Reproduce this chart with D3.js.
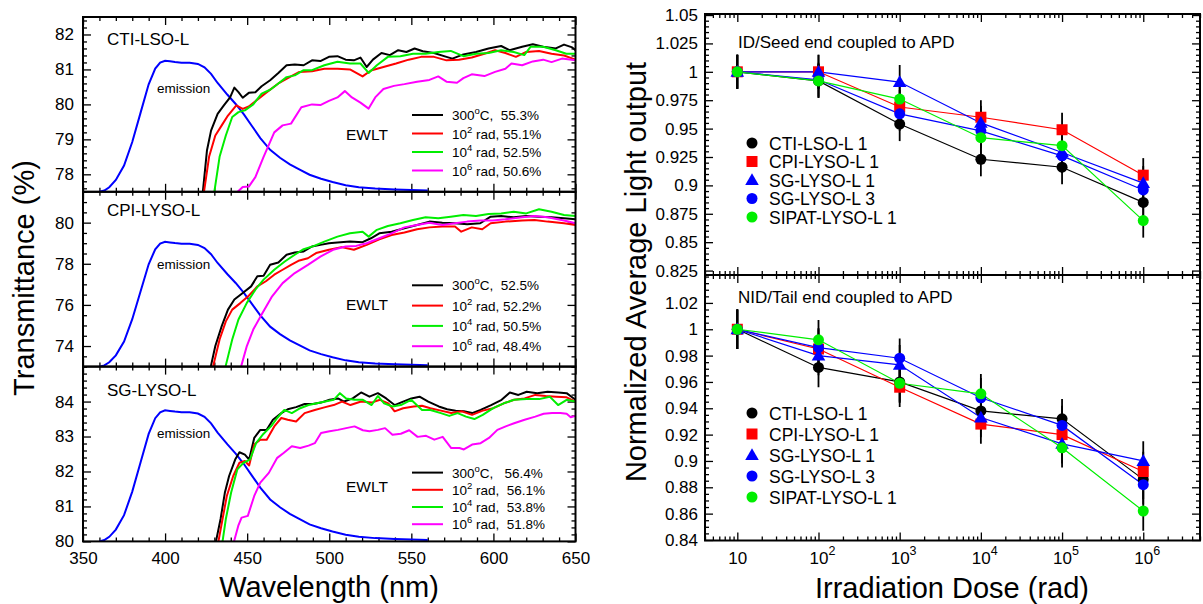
<!DOCTYPE html>
<html><head><meta charset="utf-8">
<script src="https://cdn.jsdelivr.net/npm/d3@7"></script>
<style>
body{margin:0;background:#fff;}
svg{display:block;font-family:"Liberation Sans",Arial,Helvetica,sans-serif;}
text{white-space:pre;}
</style></head><body>
<svg id="fig" width="1203" height="604"></svg>
<script>
// ---------- Transmittance spectra (wavelength nm, transmittance %) ----------
const wlTicks = [350, 400, 450, 500, 550, 600, 650];

// relative emission spectrum (wavelength nm, normalised intensity)
const emissionRel = [[360,0.0],[363,0.01],[366,0.035],[370,0.09],[375,0.2],[380,0.38],[385,0.6],[390,0.82],[394,0.94],[397,0.985],[400,1.0],[403,0.995],[406,0.99],[410,0.985],[415,0.985],[420,0.975],[424,0.95],[428,0.9],[432,0.83],[438,0.74],[443,0.67],[448,0.59],[453,0.5],[458,0.41],[464,0.32],[470,0.26],[476,0.21],[482,0.17],[488,0.13],[495,0.1],[502,0.075],[510,0.05],[518,0.035],[528,0.025],[540,0.018],[550,0.014],[560,0.01]];

// CTI-LSO-L
const ctiAnnealed = [[422,77.0],[423,77.5],[425.5,78.68],[428,79.25],[432,79.73],[435.8,79.97],[439.6,80.2],[442.2,80.48],[444.7,80.35],[447.3,80.19],[451,80.33],[455,80.35],[458.8,80.52],[464,80.69],[469,80.9],[474,81.12],[479,81.14],[484.4,81.12],[489.5,81.26],[494.6,81.24],[499.8,81.36],[505,81.38],[510,81.28],[515,81.26],[519,81.34],[522.8,81.07],[526.6,81.28],[531.8,81.47],[536.9,81.41],[542,81.55],[547,81.5],[552,81.6],[557,81.52],[563.8,81.47],[571.4,81.36],[575,81.31],[581.7,81.43],[589.4,81.5],[597,81.6],[604.7,81.67],[609.8,81.55],[617.5,81.65],[624,81.72],[630.3,81.65],[638,81.6],[643,81.71],[648,81.63],[650,81.55]];
const cti1e2 = [[423,77.0],[423.7,77.5],[426.8,78.5],[430.6,79.11],[434.5,79.4],[438.3,79.68],[443.4,79.97],[447.3,79.87],[451,79.94],[456,80.13],[461.4,80.33],[469,80.6],[476.7,80.8],[481.8,80.93],[489.5,80.95],[497,81.02],[505,81.02],[512.6,81.0],[520.3,80.8],[525.4,80.97],[533,81.07],[540.7,81.17],[548.4,81.28],[556,81.36],[563.8,81.36],[571.4,81.26],[579,81.28],[586.8,81.34],[594.5,81.45],[601,81.55],[607.3,81.47],[613.7,81.36],[620,81.5],[627.8,81.53],[635.4,81.45],[643,81.4],[650,81.28]];
const cti1e4 = [[429.5,77.0],[430,77.5],[433.2,78.5],[437,79.11],[440.9,79.64],[444.7,79.78],[448.6,79.83],[453.7,80.0],[458.8,80.31],[464,80.42],[469,80.6],[474,80.78],[479,80.83],[484.4,80.98],[489.5,80.98],[497,81.12],[505,81.22],[512.6,81.17],[519,81.17],[524,80.9],[529,81.12],[535.7,81.36],[543.3,81.38],[551,81.45],[558.7,81.45],[566.4,81.5],[574,81.53],[581.7,81.38],[589.4,81.45],[597,81.47],[604.7,81.55],[612.4,81.5],[618.8,81.41],[622.7,81.65],[630.3,81.65],[638,81.55],[644.4,81.45],[650,81.45]];
const cti1e6 = [[444,77.0],[444.2,77.5],[447.3,77.64],[451,77.65],[455,77.92],[460,78.5],[466.5,79.2],[471.6,79.4],[476.7,79.45],[483,79.92],[489.5,80.0],[494.6,79.98],[499.8,80.1],[505,80.2],[509.5,80.38],[513.8,80.2],[519,80.05],[524,79.88],[528,80.2],[533,80.44],[539.4,80.53],[545.8,80.58],[553.5,80.65],[561,80.7],[566.4,80.8],[571.4,80.65],[577.8,80.62],[581.7,80.75],[586.8,80.86],[594.5,80.81],[601,80.93],[607.3,81.02],[611,81.17],[617.5,81.12],[624,81.23],[630.3,81.28],[635.4,81.21],[641.8,81.31],[650,81.26]];

// CPI-LYSO-L
const cpiAnnealed = [[427.5,72.5],[428,73.06],[430.6,74.0],[434.5,74.97],[438.3,75.77],[442.2,76.26],[447.3,76.58],[452.4,76.9],[456.2,77.39],[460,77.42],[464,77.95],[469,78.06],[474,78.44],[479,78.55],[484.4,78.6],[489.5,78.84],[494.6,78.92],[499.8,79.0],[505,79.03],[512.6,79.08],[520.3,79.05],[525.4,79.24],[530.5,79.48],[538,79.56],[545.8,79.73],[553.5,79.89],[561,80.05],[568.9,80.0],[576.6,79.97],[584,79.92],[592,79.97],[598.3,80.29],[604.7,80.32],[612.4,80.26],[620,80.32],[627.8,80.29],[635.4,80.26],[643,80.21],[650,80.16]];
const cpi1e2 = [[429,72.5],[429.4,73.06],[433.2,74.32],[437,75.2],[440.9,75.77],[446,76.1],[451,76.45],[456.2,76.9],[461.4,77.15],[466.5,77.47],[471.6,77.71],[476.7,77.95],[481.8,78.16],[487,78.27],[492,78.52],[499.8,78.68],[507.4,78.81],[515,78.68],[522.8,78.92],[530.5,79.19],[538,79.4],[545.8,79.52],[553.5,79.68],[561,79.77],[568.9,79.81],[576.6,79.81],[580.4,79.56],[586.8,79.77],[593.2,79.68],[598.3,79.97],[607.3,80.05],[617.5,80.1],[625,80.13],[633,80.05],[643,79.97],[650,79.89]];
const cpi1e4 = [[436.5,72.5],[437,73.06],[440.9,74.32],[444.7,75.29],[449.8,76.1],[455,76.74],[460,77.23],[466.5,77.71],[472.9,78.11],[479,78.44],[484.4,78.71],[490.8,78.87],[497,79.08],[505,79.32],[512.6,79.48],[520.3,79.56],[524,79.32],[529,79.65],[535.7,79.84],[543.3,79.97],[551,80.13],[558.7,80.26],[566.4,80.21],[574,80.29],[581.7,80.37],[589.4,80.32],[597,80.42],[604.7,80.45],[612.4,80.53],[620,80.45],[627.8,80.65],[635.4,80.53],[643,80.37],[650,80.32]];
const cpi1e6 = [[446,72.5],[446.5,73.06],[449.8,74.0],[453.7,74.8],[458.8,75.53],[465.2,76.42],[471.6,77.06],[479,77.55],[487,77.95],[494.6,78.35],[502.3,78.68],[510,78.84],[516.4,78.87],[522.8,79.0],[530.5,79.24],[538,79.48],[545.8,79.77],[553.5,79.89],[561,80.0],[568.9,79.89],[576.6,79.97],[584,80.05],[592,80.1],[599.6,80.1],[607.3,80.16],[617.5,80.26],[625,80.32],[633,80.26],[643,80.1],[650,79.97]];

// SG-LYSO-L
const sgAnnealed = [[430.5,79.5],[431,80.0],[433.8,80.64],[436.4,81.39],[439,81.87],[442.7,82.34],[445.3,82.55],[448.6,82.48],[451.2,82.34],[454.3,82.96],[458,83.19],[461.9,83.19],[465.7,83.48],[470.8,83.67],[474.7,83.78],[479.8,83.84],[485,83.93],[490,83.93],[495,83.97],[500.2,84.05],[505.3,84.09],[509,84.0],[514.3,84.09],[519.4,84.26],[524.5,84.14],[529.6,84.24],[534.7,84.09],[539.8,83.9],[545,84.0],[550,84.09],[555,84.14],[560.3,84.0],[566.7,83.86],[571.8,83.78],[577,83.74],[582,83.72],[587,83.67],[592.2,83.76],[598.6,83.9],[605,84.05],[610,84.26],[615.2,84.19],[620.3,84.28],[626.7,84.24],[633,84.28],[639.5,84.26],[644.6,84.24],[650,84.05]];
const sg1e2 = [[432,79.5],[432.5,80.0],[435,80.64],[437.6,81.3],[441.5,81.87],[445.3,82.25],[448.6,82.3],[451.2,82.17],[454.3,82.77],[458,82.91],[461.9,82.91],[466.5,83.29],[470.8,83.53],[474.7,83.48],[479.8,83.43],[485,83.67],[491.2,83.76],[497.6,83.84],[502.7,83.9],[507.8,84.0],[512.9,83.9],[519.4,84.0],[525.8,83.97],[530.9,84.05],[536,83.95],[539.8,83.72],[545,83.81],[551.4,83.86],[556.5,83.88],[561.6,83.81],[568,83.74],[574.3,83.67],[580.8,83.72],[587,83.62],[593.5,83.74],[599.9,83.81],[606.3,83.95],[612.6,84.05],[619,84.09],[625.5,84.19],[631.8,84.16],[638.2,84.14],[644.6,84.12],[650,84.0]];
const sg1e4 = [[434.5,79.5],[435,80.0],[437,80.64],[440.2,81.39],[444,82.06],[447.8,82.25],[451.7,82.34],[455.5,82.82],[459.4,83.05],[464.5,83.29],[468.3,83.53],[472.6,83.76],[477.2,83.67],[482.3,83.81],[487.4,83.9],[492.5,83.95],[497.6,84.0],[502.7,84.05],[506.5,84.24],[510.3,84.09],[515.4,84.05],[520.5,84.05],[525.8,83.9],[529.6,84.16],[533.4,83.95],[538.5,83.86],[543.6,83.9],[549.9,84.05],[556.5,83.76],[561.6,83.76],[568,83.67],[573.1,83.59],[578.2,83.67],[583.3,83.57],[588.4,83.5],[593.5,83.62],[599.9,83.81],[606.3,83.95],[612.6,84.05],[620.3,84.07],[627.9,84.07],[634.3,84.14],[639.4,83.9],[644.6,84.05],[650,84.0]];
const sg1e6 = [[441.5,79.5],[442,80.0],[444.6,80.45],[446.6,80.68],[450.4,80.73],[454.3,81.3],[458,81.68],[463.2,81.96],[468.3,82.39],[472.2,82.53],[477.2,82.72],[482.3,82.67],[487.4,82.74],[491.2,82.81],[495,83.1],[500.2,83.15],[505.3,83.19],[510.3,83.24],[515.4,83.29],[520.5,83.18],[524.5,83.15],[529.6,83.19],[534,83.24],[538.5,83.05],[543.6,83.08],[548.7,83.18],[553.8,82.99],[559,83.02],[564,82.91],[569.1,82.99],[574.3,82.67],[579.3,82.67],[582,82.63],[587,82.77],[592.2,82.81],[597.3,82.96],[602.4,83.19],[607.5,83.29],[612.6,83.38],[619,83.48],[625.5,83.57],[630.6,83.65],[635.7,83.67],[640.8,83.67],[644.6,83.65],[647.1,83.55],[650,83.59]];

const panelNames = ["CTI-LSO-L", "CPI-LYSO-L", "SG-LYSO-L"];
const panelYDomain = [[77.5, 82.5], [73, 81.5], [80, 85]];
const panelYTicks = [[78, 79, 80, 81, 82], [74, 76, 78, 80], [80, 81, 82, 83, 84]];
const panelYMinor = [0.2, 0.5, 0.2];
const emissionPeak = [81.25, 79.07, 83.75];
const panelCurves = [[ctiAnnealed, cti1e2, cti1e4, cti1e6], [cpiAnnealed, cpi1e2, cpi1e4, cpi1e6], [sgAnnealed, sg1e2, sg1e4, sg1e6]];
const ewltLabels = [["55.3%", "55.1%", "52.5%", "50.6%"], ["52.5%", "52.2%", "50.5%", "48.4%"], ["56.4%", "56.1%", "53.8%", "51.8%"]];
const doseExponents = ["2", "4", "6"];
const spectrumColors = ["#000000", "#ff0000", "#00ee00", "#ff00ff"];

// ---------- Light output vs dose ----------
const doses = [10, 1e2, 1e3, 1e4, 1e5, 1e6];
const doseTicks = [10, 1e2, 1e3, 1e4, 1e5, 1e6];
const crystalNames = ["CTI-LSO-L 1", "CPI-LYSO-L 1", "SG-LYSO-L 1", "SG-LYSO-L 3", "SIPAT-LYSO-L 1"];
const seedCTI   = [1.0, 0.992, 0.954, 0.923, 0.916, 0.885];
const seedCPI   = [1.0, 1.0, 0.969, 0.960, 0.949, 0.909];
const seedSG1   = [1.0, 1.0, 0.991, 0.955, 0.929, 0.902];
const seedSG3   = [1.0, 0.993, 0.963, 0.948, 0.926, 0.896];
const seedSIPAT = [1.0, 0.992, 0.976, 0.942, 0.935, 0.869];
const tailCTI   = [1.0, 0.971, 0.960, 0.938, 0.932, 0.886];
const tailCPI   = [1.0, 0.985, 0.956, 0.928, 0.920, 0.892];
const tailSG1   = [1.0, 0.980, 0.973, 0.933, 0.913, 0.900];
const tailSG3   = [1.0, 0.986, 0.978, 0.948, 0.927, 0.882];
const tailSIPAT = [1.0, 0.992, 0.959, 0.951, 0.910, 0.862];
const lightOutputError = 0.015;
const seedTicks = [0.825, 0.85, 0.875, 0.9, 0.925, 0.95, 0.975, 1, 1.025, 1.05];
const tailTicks = [0.84, 0.86, 0.88, 0.9, 0.92, 0.94, 0.96, 0.98, 1, 1.02];
const seriesColors = ["#000000", "#ff0000", "#0000ff", "#0000ff", "#00ee00"];
const seriesShapes = ["circle", "square", "triangle", "circle", "circle"];

// ---------- drawing ----------
const svg = d3.select("#fig");
const FONT = '"Liberation Sans", Arial, Helvetica, sans-serif';

function styleAxis(g, size) {
  g.attr("font-family", FONT).attr("font-size", size);
  g.select(".domain").remove();
  g.selectAll(".tick line").attr("stroke", "#000").attr("stroke-width", 1.3);
  g.selectAll(".tick text").attr("fill", "#000");
}

// inward ticks on all four sides of a panel box
function boxTicks(x, y, x0, x1, yTop, yBot, xMaj, xMin, yMaj, yMin) {
  const g = svg.append("g");
  const add = (axis, tx, ty) => g.append("g").attr("transform", `translate(${tx},${ty})`).call(axis).call(a => styleAxis(a, 10));
  add(d3.axisTop(x).tickValues(xMaj).tickSize(-8).tickFormat(""), 0, yTop);
  add(d3.axisTop(x).tickValues(xMin).tickSize(-4).tickFormat(""), 0, yTop);
  add(d3.axisBottom(x).tickValues(xMaj).tickSize(-8).tickFormat(""), 0, yBot);
  add(d3.axisBottom(x).tickValues(xMin).tickSize(-4).tickFormat(""), 0, yBot);
  add(d3.axisLeft(y).tickValues(yMaj).tickSize(-8).tickFormat(""), x0, 0);
  add(d3.axisLeft(y).tickValues(yMin).tickSize(-4).tickFormat(""), x0, 0);
  add(d3.axisRight(y).tickValues(yMaj).tickSize(-8).tickFormat(""), x1, 0);
  add(d3.axisRight(y).tickValues(yMin).tickSize(-4).tickFormat(""), x1, 0);
}

// ===== left figure: transmittance =====
const L = {x0: 83, x1: 575.5, top: 17, h: 174.8};
const xW = d3.scaleLinear().domain([350, 650]).range([L.x0, L.x1]);
const wlMinor = d3.range(350, 651, 10).filter(v => !wlTicks.includes(v));
const legendFirstRow = [98, 93.5, 106];
const legendRowGap = [18.5, 20.3, 17.2];
const nameY = [22, 18.5, 23.5];
const emissionLabelY = [71.5, 72.5, 66.5];
const ewltY = [117, 112.5, 119.5];

panelNames.forEach((name, i) => {
  const top = L.top + i * L.h, bot = top + L.h;
  const [lo, hi] = panelYDomain[i];
  const y = d3.scaleLinear().domain([lo, hi]).range([bot, top]);
  const clipId = "clipL" + i;
  svg.append("clipPath").attr("id", clipId).append("rect")
    .attr("x", L.x0).attr("y", top).attr("width", L.x1 - L.x0).attr("height", L.h);

  const yMinor = d3.range(Math.ceil(lo / panelYMinor[i]), Math.floor(hi / panelYMinor[i]) + 1)
    .map(k => +(k * panelYMinor[i]).toFixed(2)).filter(v => !panelYTicks[i].includes(v));
  boxTicks(xW, y, L.x0, L.x1, top, bot, wlTicks, wlMinor, panelYTicks[i], yMinor);

  // y tick labels
  svg.append("g").attr("transform", `translate(${L.x0},0)`)
    .call(d3.axisLeft(y).tickValues(panelYTicks[i]).tickSize(0).tickPadding(9).tickFormat(d => String(d)))
    .call(a => styleAxis(a, 17));

  const plot = svg.append("g").attr("clip-path", `url(#${clipId})`);
  // emission spectrum scaled into the panel
  const em = d3.line().x(d => xW(d[0])).y(d => y(lo + d[1] * (emissionPeak[i] - lo)));
  plot.append("path").datum(emissionRel).attr("d", em)
    .attr("fill", "none").attr("stroke", "#0000ff").attr("stroke-width", 2);
  const ln = d3.line().x(d => xW(d[0])).y(d => y(d[1]));
  panelCurves[i].forEach((c, k) => {
    plot.append("path").datum(c).attr("d", ln)
      .attr("fill", "none").attr("stroke", spectrumColors[k]).attr("stroke-width", 2)
      .attr("stroke-linejoin", "round");
  });

  // labels
  svg.append("text").attr("x", 107).attr("y", top + nameY[i] + 6).attr("font-size", 17).text(name);
  svg.append("text").attr("x", 157).attr("y", top + emissionLabelY[i] + 4.5).attr("font-size", 13.5).text("emission");
  svg.append("text").attr("x", 346).attr("y", top + ewltY[i] + 5.5).attr("font-size", 15.5).text("EWLT");

  // legend
  const gap = i === 2 ? "  " : " ";
  ewltLabels[i].forEach((lab, k) => {
    const ry = top + legendFirstRow[i] + k * legendRowGap[i];
    svg.append("line").attr("x1", 412).attr("x2", 443).attr("y1", ry).attr("y2", ry)
      .attr("stroke", spectrumColors[k]).attr("stroke-width", 2);
    const t = svg.append("text").attr("x", 452).attr("y", ry + 5).attr("font-size", 13.5);
    if (k === 0) {
      t.append("tspan").text("300");
      t.append("tspan").attr("dy", -6).attr("font-size", 9.5).text("o");
      t.append("tspan").attr("dy", 6).text("C," + gap + " " + lab);
    } else {
      t.append("tspan").text("10");
      t.append("tspan").attr("dy", -6).attr("font-size", 9.5).text(doseExponents[k - 1]);
      t.append("tspan").attr("dy", 6).text(" rad," + gap + lab);
    }
  });

  svg.append("rect").attr("x", L.x0).attr("y", top).attr("width", L.x1 - L.x0).attr("height", L.h)
    .attr("fill", "none").attr("stroke", "#000").attr("stroke-width", 2);

  if (i === 2) {
    svg.append("g").attr("transform", `translate(0,${bot})`)
      .call(d3.axisBottom(xW).tickValues(wlTicks).tickSize(0).tickPadding(11).tickFormat(d => String(d)))
      .call(a => styleAxis(a, 17));
  }
});

svg.append("text").attr("transform", "translate(34,278) rotate(-90)")
  .attr("text-anchor", "middle").attr("font-size", 29).text("Transmittance (%)");
svg.append("text").attr("x", 329).attr("y", 597)
  .attr("text-anchor", "middle").attr("font-size", 29).text("Wavelength (nm)");

// ===== right figure: normalised light output =====
const R = {x0: 705, x1: 1200};
const xD = d3.scaleLog().domain([4, 5e6]).range([R.x0, R.x1]);
const doseMinor = [];
[1, 10, 100, 1e3, 1e4, 1e5, 1e6].forEach(dec => d3.range(2, 10).forEach(m => {
  const v = m * dec; if (v >= 4 && v <= 5e6) doseMinor.push(v);
}));

const rightPanels = [
  {top: 14, bot: 275, domain: [0.8211, 1.0509], ticks: seedTicks, minor: 0.005,
   series: [seedCTI, seedCPI, seedSG1, seedSG3, seedSIPAT], title: "ID/Seed end coupled to APD",
   titleY: 48, legendY: 143, legendGap: 18.5},
  {top: 275, bot: 540.5, domain: [0.8396, 1.0412], ticks: tailTicks, minor: 0.005,
   series: [tailCTI, tailCPI, tailSG1, tailSG3, tailSIPAT], title: "NID/Tail end coupled to APD",
   titleY: 303, legendY: 413, legendGap: 21}
];

function marker(g, shape, color, cx, cy) {
  if (shape === "circle") {
    g.append("circle").attr("cx", cx).attr("cy", cy).attr("r", 5.5).attr("fill", color);
  } else if (shape === "square") {
    g.append("rect").attr("x", cx - 5.5).attr("y", cy - 5.5).attr("width", 11).attr("height", 11).attr("fill", color);
  } else {
    g.append("path").attr("d", d3.symbol(d3.symbolTriangle, 80)()).attr("transform", `translate(${cx},${cy + 1})`).attr("fill", color);
  }
}

rightPanels.forEach((p, pi) => {
  const y = d3.scaleLinear().domain(p.domain).range([p.bot, p.top]);
  const clipId = "clipR" + pi;
  svg.append("clipPath").attr("id", clipId).append("rect")
    .attr("x", R.x0).attr("y", p.top).attr("width", R.x1 - R.x0).attr("height", p.bot - p.top);
  const yMinor = d3.range(Math.ceil(p.domain[0] / p.minor), Math.floor(p.domain[1] / p.minor) + 1)
    .map(k => +(k * p.minor).toFixed(3)).filter(v => !p.ticks.includes(v));
  boxTicks(xD, y, R.x0, R.x1, p.top, p.bot, doseTicks, doseMinor, p.ticks, yMinor);

  svg.append("g").attr("transform", `translate(${R.x0},0)`)
    .call(d3.axisLeft(y).tickValues(p.ticks).tickSize(0).tickPadding(7).tickFormat(d => String(+d.toFixed(3))))
    .call(a => styleAxis(a, 17));

  const plot = svg.append("g").attr("clip-path", `url(#${clipId})`);
  // error bars
  p.series.forEach(vals => {
    vals.forEach((v, k) => {
      plot.append("line").attr("x1", xD(doses[k])).attr("x2", xD(doses[k]))
        .attr("y1", y(v - lightOutputError)).attr("y2", y(v + lightOutputError))
        .attr("stroke", "#000").attr("stroke-width", 1.8);
    });
  });
  p.series.forEach((vals, s) => {
    const pts = vals.map((v, k) => [doses[k], v]);
    plot.append("path").datum(pts)
      .attr("d", d3.line().x(d => xD(d[0])).y(d => y(d[1])))
      .attr("fill", "none").attr("stroke", seriesColors[s]).attr("stroke-width", 1.2);
  });
  p.series.forEach((vals, s) => {
    vals.forEach((v, k) => marker(plot, seriesShapes[s], seriesColors[s], xD(doses[k]), y(v)));
  });

  svg.append("text").attr("x", 738).attr("y", p.titleY).attr("font-size", 17).text(p.title);
  crystalNames.forEach((nm, s) => {
    const ry = p.legendY + s * p.legendGap;
    marker(svg, seriesShapes[s], seriesColors[s], 752, ry);
    svg.append("text").attr("x", 769).attr("y", ry + 6.5).attr("font-size", 17.5).text(nm);
  });

  svg.append("rect").attr("x", R.x0).attr("y", p.top).attr("width", R.x1 - R.x0).attr("height", p.bot - p.top)
    .attr("fill", "none").attr("stroke", "#000").attr("stroke-width", 2);

  if (pi === 1) {
    const ax = svg.append("g").attr("transform", `translate(0,${p.bot})`)
      .call(d3.axisBottom(xD).tickValues(doseTicks).tickSize(0).tickPadding(11).tickFormat(""))
      .call(a => styleAxis(a, 17));
    ax.selectAll(".tick text").each(function(d) {
      const t = d3.select(this);
      const e = Math.round(Math.log10(d));
      if (e === 1) { t.text("10"); return; }
      t.attr("text-anchor", "start").attr("x", -9.5);
      t.append("tspan").text("10");
      t.append("tspan").attr("dy", -9).attr("font-size", 12.5).text(String(e));
    });
  }
});

svg.append("text").attr("transform", "translate(646,272) rotate(-90)")
  .attr("text-anchor", "middle").attr("font-size", 29).text("Normalized Average Light output");
svg.append("text").attr("x", 952).attr("y", 598)
  .attr("text-anchor", "middle").attr("font-size", 29).text("Irradiation Dose (rad)");
</script></body></html>
